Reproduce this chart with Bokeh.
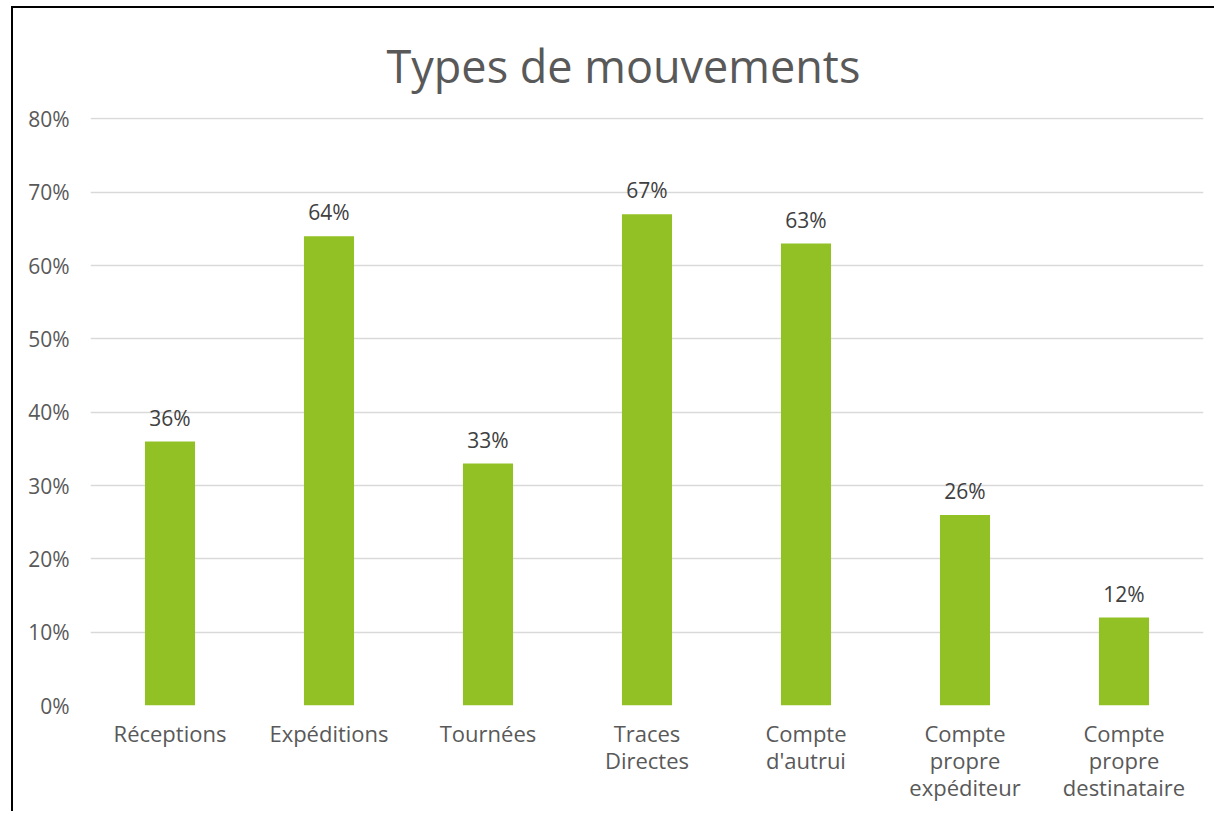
from bokeh.plotting import figure
from bokeh.models import ColumnDataSource, NumeralTickFormatter, Title
from bokeh.core.properties import value
from bokeh.embed import file_html
from bokeh.resources import INLINE

categories = ["Réceptions", "Expéditions", "Tournées", "Traces\nDirectes",
              "Compte\nd'autrui", "Compte\npropre\nexpéditeur", "Compte\npropre\ndestinataire"]
values = [0.36, 0.64, 0.33, 0.67, 0.63, 0.26, 0.12]
labels = ["36%", "64%", "33%", "67%", "63%", "26%", "12%"]
y_ticks = [0, 0.1, 0.2, 0.3, 0.4, 0.5, 0.6, 0.7, 0.8]

FONT = "Open Sans"
TXT = "#595959"

src = ColumnDataSource(dict(cat=categories, val=values, lab=labels))

p = figure(x_range=categories, y_range=(0, 0.802), width=1203, height=805,
           output_backend="svg", toolbar_location=None,
           min_border_left=77, min_border_right=13, min_border_top=109, min_border_bottom=108)
p.styles = {"border-left": "2px solid black", "border-top": "2px solid black",
            "margin-left": "11px", "margin-top": "6px"}

p.title = Title(text="Types de mouvements", align="left", text_font=FONT, offset=296,
                standoff=44, text_font_size="45px", text_font_style="normal", text_color=TXT)

p.vbar(x="cat", top="val", width=0.315, source=src, color="#92C125", line_color=None)
p.text(x="cat", y="val", text="lab", source=src, text_align="center", text_baseline="bottom",
       y_offset=-10, text_font=value(FONT), text_font_size="21px", text_color="#404040")

p.outline_line_color = None
p.xgrid.grid_line_color = None
p.ygrid.grid_line_color = "#D9D9D9"
p.ygrid.grid_line_width = 1.5
p.yaxis.ticker = y_ticks
p.yaxis.formatter = NumeralTickFormatter(format="0%")
for ax in (p.xaxis, p.yaxis):
    ax.axis_line_color = None
    ax.major_tick_line_color = None
    ax.minor_tick_line_color = None
    ax.major_tick_out = 0
    ax.major_tick_in = 0
    ax.major_label_text_font = FONT
    ax.major_label_text_color = TXT
p.yaxis.major_label_text_font_size = "21px"
p.xaxis.major_label_text_font_size = "22px"
p.xaxis.major_label_text_line_height = 0.9
p.yaxis.major_label_standoff = 21
p.xaxis.major_label_standoff = 12

open("out.html", "w").write(file_html(p, INLINE))
